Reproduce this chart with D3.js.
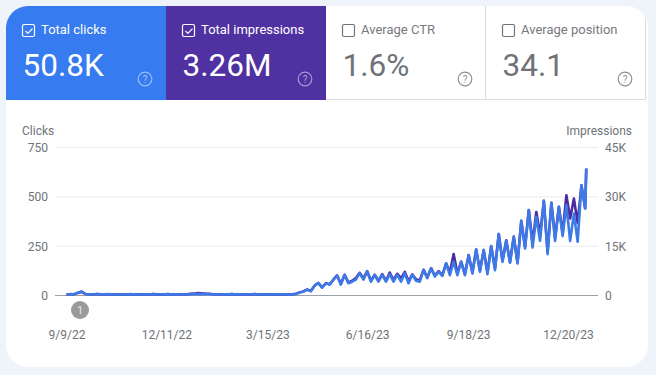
<!DOCTYPE html>
<html>
<head>
<meta charset="utf-8">
<script src="https://cdn.jsdelivr.net/npm/d3@7"></script>
<style>
  html, body { margin: 0; padding: 0; background: #eff4fb; }
  svg { display: block; font-family: Roboto, sans-serif; }
</style>
</head>
<body>
<div id="chart"></div>
<script>
// Tile contents
const tileLabels = ["Total clicks", "Total impressions", "Average CTR", "Average position"];
const tileValues = ["50.8K", "3.26M", "1.6%", "34.1"];
const tileChecked = [true, true, false, false];

// Axis ticks
const clickTicks = [0, 250, 500, 750];
const impressionTicks = [0, 15000, 30000, 45000];
const dateTicks = ["2022-09-09", "2022-12-11", "2023-03-15", "2023-06-16", "2023-09-18", "2023-12-20"];

// One value every half week from 9/9/22
const clicks = [
  5, 7, 6, 14, 20, 8, 6, 5, 8, 6, 5, 7, 5, 6, 4, 6, 5, 7, 5, 6,
  4, 6, 5, 7, 5, 6, 5, 7, 4, 6, 5, 6, 5, 7, 6, 8, 7, 6, 7, 5,
  6, 5, 6, 5, 7, 5, 6, 4, 6, 5, 7, 5, 6, 4, 6, 5, 6, 5, 6, 5,
  5, 8, 15, 20, 30, 22, 50, 64, 40, 62, 55, 80, 100, 55, 105, 62, 70, 80, 113, 80,
  122, 70, 105, 70, 105, 70, 108, 70, 105, 70, 113, 62, 105, 75, 70, 130, 88, 138, 96, 120,
  100, 163, 103, 171, 103, 171, 103, 204, 111, 233, 120, 230, 108, 250, 128, 311, 171, 277, 166, 297, 162,
  378, 238, 432, 243, 399, 277, 480, 209, 470, 277, 449, 301, 458, 277, 415, 272, 559, 441, 643
];
const impressions = [
  300, 400, 380, 800, 1100, 480, 360, 300, 460, 360, 300, 400, 320, 360, 260, 360, 300, 400, 320, 380,
  280, 360, 320, 420, 340, 380, 320, 420, 300, 380, 340, 400, 380, 500, 560, 760, 640, 560, 520, 400,
  380, 340, 380, 320, 420, 320, 360, 280, 360, 320, 420, 320, 360, 280, 360, 320, 380, 320, 360, 320,
  340, 520, 930, 1220, 1800, 1380, 3000, 3800, 2500, 3700, 3400, 4800, 6100, 3600, 6300, 3900, 4500, 5300, 6900, 5200,
  7400, 4500, 6300, 4500, 6500, 4500, 7000, 4700, 6600, 5200, 7200, 4400, 6400, 4900, 4600, 7800, 5500, 8300, 6000, 7400,
  6200, 9800, 7000, 12600, 6700, 10300, 6500, 12300, 7000, 14000, 7500, 13800, 7000, 15000, 8200, 18700, 10500, 16800, 10200, 17900, 10000,
  22700, 14800, 26000, 16000, 25400, 18500, 28800, 13300, 28200, 17500, 27000, 19000, 30500, 23400, 29500, 22000, 33500, 26500, 38600
];

const width = 656;
const height = 375;

// Last sample falls a little short of the half week step
const lastDate = new Date(2024, 0, 6);
const sampleDates = clicks.map((d, i) => d3.min([d3.timeHour.offset(new Date(2022, 8, 9), i * 84), lastDate]));

const svg = d3.select("#chart").append("svg")
  .attr("width", width)
  .attr("height", height);

// Card, tiles are clipped to its rounded corners
svg.append("clipPath").attr("id", "cardClip")
  .append("rect")
  .attr("x", 6).attr("y", 6).attr("width", 642).attr("height", 361).attr("rx", 22);

const card = svg.append("g").attr("clip-path", "url(#cardClip)");
card.append("rect")
  .attr("x", 6).attr("y", 6).attr("width", 642).attr("height", 361)
  .attr("fill", "#fff");

const tileX = d3.scaleBand().domain(d3.range(4)).range([6, 646]);
const tileFill = ["#367bf0", "#5031a1", "#fff", "#fff"];

card.selectAll(".tile")
  .data(tileLabels)
  .join("rect")
  .attr("class", "tile")
  .attr("x", (d, i) => tileX(i))
  .attr("y", 6)
  .attr("width", tileX.bandwidth())
  .attr("height", 94)
  .attr("fill", (d, i) => tileFill[i]);

// Borders of the unselected tiles
card.append("path")
  .attr("d", "M326.5,99.5H645.5V6M485.5,6V99.5")
  .attr("fill", "none")
  .attr("stroke", "#dadce0");

const tiles = svg.selectAll(".tileContent")
  .data(tileLabels)
  .join("g")
  .attr("class", "tileContent")
  .attr("transform", (d, i) => `translate(${tileX(i)},6)`);

const ink = (i) => tileChecked[i] ? "#fff" : "#6f7378";

tiles.append("rect")
  .attr("x", 16.5).attr("y", 18.5).attr("width", 12).attr("height", 12).attr("rx", 1.5)
  .attr("fill", "none")
  .attr("stroke", (d, i) => ink(i))
  .attr("stroke-width", 1.2);

tiles.filter((d, i) => tileChecked[i]).append("path")
  .attr("d", "M19.5,25l2.4,2.4l4.6,-4.8")
  .attr("fill", "none")
  .attr("stroke", "#fff")
  .attr("stroke-width", 1.2);

tiles.append("text")
  .attr("x", 35)
  .attr("y", 28)
  .attr("font-size", 13)
  .attr("fill", (d, i) => tileChecked[i] ? "#fff" : "#77797d")
  .text(d => d);

tiles.append("text")
  .attr("x", 16.5)
  .attr("y", 70)
  .attr("font-size", 31.5)
  .attr("fill", (d, i) => tileChecked[i] ? "#fff" : "#6f7378")
  .text((d, i) => tileValues[i]);

// Help icons
const help = tiles.append("g").attr("transform", "translate(139,73)");
help.append("circle")
  .attr("r", 6.8)
  .attr("fill", "none")
  .attr("stroke", (d, i) => tileChecked[i] ? "rgba(255,255,255,0.5)" : "#8c8f93")
  .attr("stroke-width", 1.2);
help.append("text")
  .attr("text-anchor", "middle")
  .attr("y", 3.5)
  .attr("font-size", 10)
  .attr("fill", (d, i) => tileChecked[i] ? "rgba(255,255,255,0.55)" : "#8c8f93")
  .text("?");

// Scales
const xScale = d3.scaleTime()
  .domain([new Date(2022, 8, 9), new Date(2023, 11, 20)])
  .range([66.5, 568]);

const yClicks = d3.scaleLinear().domain([0, 750]).range([295.5, 147.5]);
const yImpressions = d3.scaleLinear().domain([0, 45000]).range([295.5, 147.5]);

// Axes
const axisLeft = d3.axisLeft(yClicks)
  .tickValues(clickTicks)
  .tickSize(0)
  .tickPadding(7);

const axisRight = d3.axisRight(yImpressions)
  .tickValues(impressionTicks)
  .tickFormat(d => d === 0 ? "0" : (d / 1000) + "K")
  .tickSize(0)
  .tickPadding(5);

const axisBottom = d3.axisBottom(xScale)
  .tickValues(dateTicks.map(d => d3.timeParse("%Y-%m-%d")(d)))
  .tickFormat(d3.timeFormat("%-m/%-d/%y"))
  .tickSize(0)
  .tickPadding(0);

svg.append("g").attr("transform", "translate(55,0)").call(axisLeft)
  .call(g => g.select(".domain").remove());
svg.append("g").attr("transform", "translate(600,0)").call(axisRight)
  .call(g => g.select(".domain").remove());
svg.append("g").attr("transform", "translate(0,330)").call(axisBottom)
  .call(g => g.select(".domain").remove());

svg.selectAll(".tick text")
  .attr("font-family", "Roboto, sans-serif")
  .attr("font-size", 12)
  .attr("fill", "#6f7378");

// Grid lines
svg.selectAll(".grid")
  .data(clickTicks)
  .join("line")
  .attr("class", "grid")
  .attr("x1", 55)
  .attr("x2", 598)
  .attr("y1", d => yClicks(d))
  .attr("y2", d => yClicks(d))
  .attr("stroke", d => d === 0 ? "#9aa0a6" : "#e8eaed");

// Axis titles
svg.append("text")
  .attr("x", 22).attr("y", 135)
  .attr("font-size", 12)
  .attr("fill", "#6f7378")
  .text("Clicks");
svg.append("text")
  .attr("x", 632).attr("y", 135)
  .attr("text-anchor", "end")
  .attr("font-size", 12)
  .attr("fill", "#6f7378")
  .text("Impressions");

// Series, impressions underneath
const impressionLine = d3.line()
  .x((d, i) => xScale(sampleDates[i]))
  .y(d => yImpressions(d));

const clickLine = d3.line()
  .x((d, i) => xScale(sampleDates[i]))
  .y(d => yClicks(d));

svg.append("path")
  .attr("d", impressionLine(impressions))
  .attr("fill", "none")
  .attr("stroke", "#4a2ba0")
  .attr("stroke-width", 2.6)
  .attr("stroke-linejoin", "round");

svg.append("path")
  .attr("d", clickLine(clicks))
  .attr("fill", "none")
  .attr("stroke", "#3d7ae8")
  .attr("stroke-width", 2.6)
  .attr("stroke-linejoin", "round");

// Annotation badge
svg.append("circle")
  .attr("cx", 80).attr("cy", 310).attr("r", 9)
  .attr("fill", "#9a9a9a");
svg.append("text")
  .attr("x", 80).attr("y", 314)
  .attr("text-anchor", "middle")
  .attr("font-size", 11)
  .attr("fill", "#e6e6e6")
  .text("1");
</script>
</body>
</html>
